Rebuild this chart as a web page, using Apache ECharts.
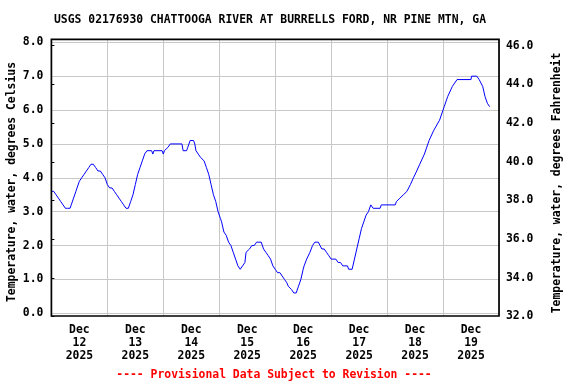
<!DOCTYPE html>
<html>
<head>
<meta charset="utf-8">
<script src="https://cdn.jsdelivr.net/npm/echarts@6/dist/echarts.min.js"></script>
<style>
html,body{margin:0;padding:0;background:#fff;}
#chart{width:576px;height:384px;}
</style>
</head>
<body>
<div id="chart"></div>
<script>
// Hours since 2025-12-12 00:00 (local)
const hours = [0,1,2,3,4,5,6,7,8,8.5,9.5,10.5,11,12,13,14,15,16,17,18,19,20,21,22,23,24,
25,26,27,28,29,30,31,32,33,34,35,36,37,38,39,40,41,43,43.5,44,47.5,48,48.5,50,51,56,56.5,58,58.5,59.5,61,61.5,62,63,64,65.5,66.5,67.5,68.5,69.5,70.5,71.5,72.5,73,74,75,76,77,78,79,80,81,82,83,83.5,85,86,87,88,90,91,92,93,94,95,96,97,98,99,100,101,101.6,103,104,105,106,107,108,108.4,109.5,110.9,112,113,114.5,116,117,118,119,120,122,123,124,125,127,127.5,129,130,131,132,133,134,135,136,137,137.5,138,141,141.5,147.5,148,149.5,151,152.5,154,155.3,156.7,158,160,162,164,166.5,168.5,170,172,174,180,180.2,182.5,183.5,185,186,187,188];
// Water temperature, degrees Celsius
const tempC = [3.6,3.6,3.5,3.4,3.3,3.2,3.1,3.1,3.1,3.2,3.4,3.6,3.7,3.9,4.0,4.1,4.2,4.3,4.4,4.4,4.3,4.2,4.2,4.1,4.0,3.8,
3.7,3.7,3.6,3.5,3.4,3.3,3.2,3.1,3.1,3.3,3.5,3.8,4.1,4.3,4.5,4.7,4.8,4.8,4.7,4.8,4.8,4.7,4.8,4.9,5.0,5.0,4.8,4.8,4.9,5.1,5.1,5.0,4.8,4.7,4.6,4.5,4.3,4.1,3.8,3.5,3.3,3.0,2.8,2.7,2.4,2.3,2.1,2.0,1.8,1.6,1.4,1.3,1.4,1.5,1.8,1.9,2.0,2.0,2.1,2.1,1.9,1.8,1.7,1.6,1.4,1.3,1.2,1.2,1.1,1.0,0.9,0.8,0.7,0.6,0.6,0.8,1.0,1.3,1.4,1.6,1.8,2.0,2.1,2.1,1.9,1.9,1.8,1.7,1.6,1.6,1.5,1.5,1.4,1.4,1.3,1.3,1.6,1.9,2.2,2.5,2.7,2.9,3.0,3.2,3.2,3.1,3.1,3.2,3.2,3.3,3.4,3.5,3.6,3.8,4.0,4.2,4.4,4.7,5.1,5.4,5.7,6.1,6.4,6.7,6.9,6.9,7.0,7.0,6.9,6.7,6.4,6.2,6.1];

const dayLabels = ['Dec\n12\n2025','Dec\n13\n2025','Dec\n14\n2025','Dec\n15\n2025','Dec\n16\n2025','Dec\n17\n2025','Dec\n18\n2025','Dec\n19\n2025'];
const titleText = 'USGS 02176930 CHATTOOGA RIVER AT BURRELLS FORD, NR PINE MTN, GA';
const leftTitle = 'Temperature, water, degrees Celsius';
const rightTitle = 'Temperature, water, degrees Fahrenheit';
const footer = '---- Provisional Data Subject to Revision ----';

const FONT = 'DejaVu Sans Mono';
const FS = 11.4;
const L = 51.4, W = 447.6;

const chart = echarts.init(document.getElementById('chart'), null, {renderer:'canvas'});
const txt = {fontFamily: FONT, fontSize: FS, fontWeight: 'bold', color: '#000'};

chart.setOption({
  animation: false,
  backgroundColor: '#fff',
  grid: [
    {left: L, width: W, top: 42.3, height: 271, show: false},
    {left: L, width: W, top: 39.3, height: 276.7, show: true, borderColor: '#000', borderWidth: 1.7, backgroundColor: 'transparent', z: 5},
    {left: L, width: W, top: 45.7, height: 270.8, show: false}
  ],
  xAxis: [
    {gridIndex: 0, type: 'value', min: 0, max: 192, interval: 12, position: 'bottom',
     axisLine: {show: false}, axisTick: {show: false}, splitLine: {show: false},
     axisLabel: Object.assign({}, txt, {margin: 10, lineHeight: 13, showMinLabel: true, showMaxLabel: true,
       formatter: v => (v % 24 === 12) ? dayLabels[(v - 12) / 24] : ''})},
    {gridIndex: 1, type: 'value', min: 0, max: 192, interval: 24,
     axisLine: {show: false}, axisTick: {show: false}, axisLabel: {show: false},
     splitLine: {show: true, lineStyle: {color: '#c8c8c8', width: 1}}},
    {gridIndex: 2, type: 'value', min: 0, max: 192, show: false}
  ],
  yAxis: [
    {gridIndex: 0, type: 'value', min: 0, max: 8, interval: 1, position: 'left',
     axisLine: {show: false}, axisTick: {show: false},
     splitLine: {show: true, lineStyle: {color: '#c8c8c8', width: 1}},
     axisLabel: Object.assign({}, txt, {margin: 8, formatter: v => v.toFixed(1)})},
    {gridIndex: 1, type: 'value', min: 0, max: 1, show: false},
    {gridIndex: 2, type: 'value', min: 32, max: 46, interval: 2, position: 'right',
     axisLine: {show: false},
     axisTick: {show: true, inside: false, length: 3, lineStyle: {color: '#000', width: 1}},
     splitLine: {show: false},
     axisLabel: Object.assign({}, txt, {margin: 7, formatter: v => v.toFixed(1)})}
  ],
  series: [{
    type: 'line', xAxisIndex: 0, yAxisIndex: 0,
    data: hours.map((h, i) => [h, tempC[i]]),
    showSymbol: false, smooth: false,
    lineStyle: {color: '#0000ff', width: 1},
    z: 3
  }],
  graphic: [
    {type: 'text', x: 270, y: 20, style: Object.assign({text: titleText, align: 'center', verticalAlign: 'middle', fill: '#000', font: 'bold ' + FS + 'px ' + FONT})},
    {type: 'text', x: 12, y: 182, rotation: Math.PI / 2, style: {text: leftTitle, align: 'center', verticalAlign: 'middle', fill: '#000', font: 'bold ' + FS + 'px ' + FONT}},
    {type: 'text', x: 557, y: 183, rotation: Math.PI / 2, style: {text: rightTitle, align: 'center', verticalAlign: 'middle', fill: '#000', font: 'bold ' + FS + 'px ' + FONT}},
    {type: 'text', x: 274, y: 375, style: {text: footer, align: 'center', verticalAlign: 'middle', fill: '#ff0000', font: 'bold ' + FS + 'px ' + FONT}}
  ]
});
</script>
</body>
</html>
